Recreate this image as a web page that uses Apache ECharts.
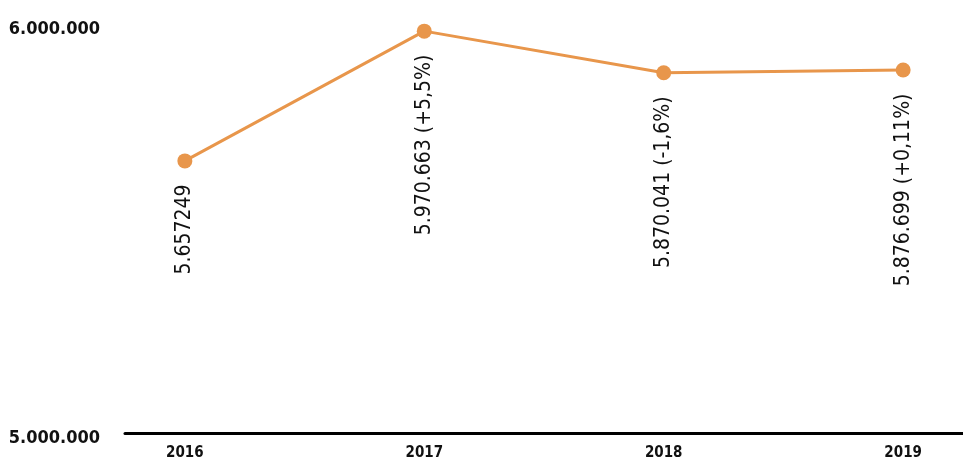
<!DOCTYPE html>
<html>
<head>
<meta charset="utf-8">
<script src="https://cdn.jsdelivr.net/npm/echarts@6/dist/echarts.min.js"></script>
<style>
  html, body { margin: 0; padding: 0; background: #fff; }
  #chart { width: 963px; height: 464px; }
</style>
</head>
<body>
<div id="chart"></div>
<script>
// datos
const years = [2016, 2017, 2018, 2019];
const visitors = [5657249, 5970663, 5870041, 5876699];
const pointLabels = ["5.657249", "5.970.663 (+5,5%)", "5.870.041 (-1,6%)", "5.876.699 (+0,11%)"];
const yTicks = [5000000, 6000000];

const FONT = '"DejaVu Sans Condensed", "Liberation Sans Narrow", sans-serif';
const ORANGE = "#E8964B";

const fmtThousands = (v) => String(v).replace(/\B(?=(\d{3})+(?!\d))/g, ".");

const myChart = echarts.init(document.getElementById("chart"));

const option = {
  animation: false,
  grid: { left: 125, right: 0, top: 19, bottom: 31, containLabel: false, outerBoundsMode: "none" },
  xAxis: {
    type: "value",
    min: 2015.75,
    max: 2019.25,
    splitLine: { show: false },
    axisTick: { show: false },
    axisLine: { show: true, lineStyle: { color: "#000", width: 3 } },
    axisLabel: {
      customValues: years,
      formatter: (v) => String(v),
      margin: 13,
      color: "#111",
      fontFamily: FONT,
      fontWeight: "bold",
      fontSize: 15,
    },
  },
  yAxis: {
    type: "value",
    min: yTicks[0],
    max: yTicks[1],
    interval: yTicks[1] - yTicks[0],
    splitLine: { show: false },
    axisTick: { show: false },
    axisLine: { show: false },
    axisLabel: {
      margin: 25,
      color: "#111",
      fontFamily: FONT,
      fontWeight: "bold",
      fontSize: 18,
      formatter: (v) => (v === yTicks[1] ? "{t|" + fmtThousands(v) + "}" : "{b|" + fmtThousands(v) + "}"),
      rich: {
        t: { fontFamily: FONT, fontWeight: "bold", fontSize: 18, color: "#111", padding: [20, 0, 0, 0] },
        b: { fontFamily: FONT, fontWeight: "bold", fontSize: 18, color: "#111", padding: [10, 0, 0, 0] },
      },
    },
  },
  series: [
    {
      type: "line",
      data: years.map((y, i) => [y, visitors[i]]),
      symbol: "circle",
      symbolSize: 15,
      lineStyle: { color: ORANGE, width: 3 },
      itemStyle: { color: ORANGE },
      label: {
        show: true,
        position: "bottom",
        distance: 16,
        rotate: 90,
        align: "right",
        verticalAlign: "middle",
        color: "#111",
        fontFamily: FONT,
        fontSize: 21,
        formatter: (p) => pointLabels[p.dataIndex],
      },
    },
  ],
};
myChart.setOption(option, true);

window.addEventListener("resize", () => {
  myChart.resize();
});
</script>
</body>
</html>
